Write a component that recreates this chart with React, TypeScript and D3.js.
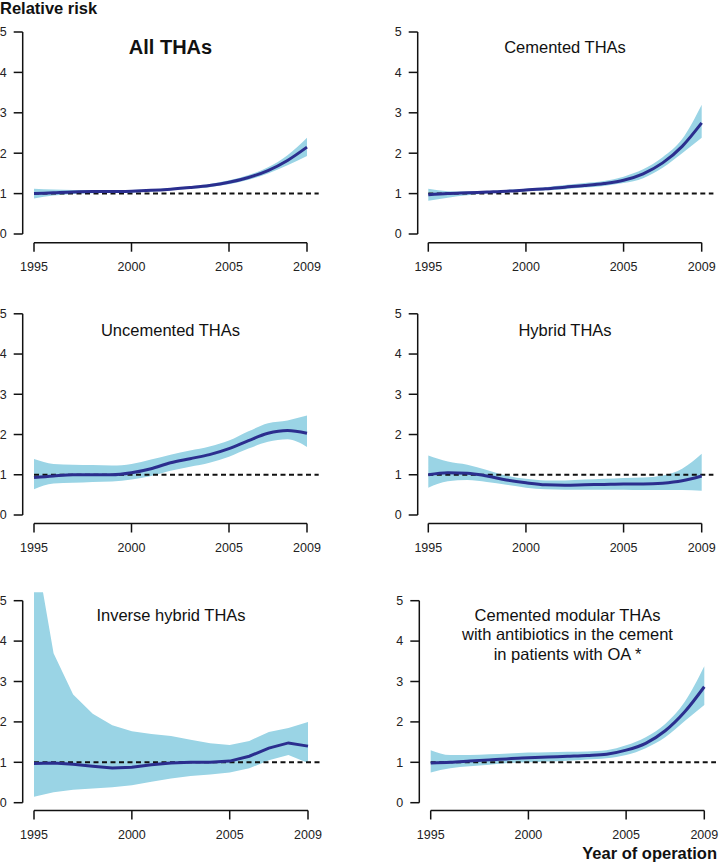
import React from "react";
import * as d3 from "d3";

const years = [1995, 1996, 1997, 1998, 1999, 2000, 2001, 2002, 2003, 2004, 2005, 2006, 2007, 2008, 2009];
const xTicks = [1995, 2000, 2005, 2009];
const yTicks = [0, 1, 2, 3, 4, 5];

const titles = [
  ["All THAs"],
  ["Cemented THAs"],
  ["Uncemented THAs"],
  ["Hybrid THAs"],
  ["Inverse hybrid THAs"],
  ["Cemented modular THAs", "with antibiotics in the cement", "in patients with OA *"],
];

const allEst = [1.0, 1.02, 1.04, 1.05, 1.05, 1.06, 1.08, 1.11, 1.15, 1.2, 1.28, 1.4, 1.57, 1.82, 2.15];
const allLo = [0.88, 0.95, 0.99, 1.01, 1.02, 1.03, 1.05, 1.08, 1.12, 1.16, 1.23, 1.34, 1.5, 1.7, 1.93];
const allHi = [1.12, 1.1, 1.09, 1.09, 1.08, 1.09, 1.11, 1.14, 1.18, 1.24, 1.33, 1.46, 1.65, 1.95, 2.38];

const cemEst = [0.97, 1.0, 1.02, 1.04, 1.06, 1.09, 1.12, 1.16, 1.2, 1.25, 1.33, 1.49, 1.76, 2.17, 2.75];
const cemLo = [0.82, 0.9, 0.96, 1.0, 1.03, 1.06, 1.08, 1.11, 1.15, 1.19, 1.26, 1.38, 1.64, 2.0, 2.38];
const cemHi = [1.12, 1.06, 1.05, 1.06, 1.09, 1.12, 1.16, 1.21, 1.26, 1.31, 1.42, 1.6, 1.9, 2.35, 3.2];

const uncEst = [0.93, 0.97, 1.0, 1.0, 1.0, 1.05, 1.15, 1.3, 1.4, 1.5, 1.65, 1.85, 2.03, 2.1, 2.03];
const uncLo = [0.64, 0.78, 0.8, 0.82, 0.83, 0.88, 0.97, 1.1, 1.2, 1.3, 1.45, 1.65, 1.82, 1.88, 1.69];
const uncHi = [1.39, 1.27, 1.25, 1.24, 1.23, 1.27, 1.38, 1.5, 1.6, 1.7, 1.85, 2.08, 2.28, 2.35, 2.47];

const hybEst = [1.0, 1.05, 1.04, 0.97, 0.87, 0.8, 0.75, 0.74, 0.75, 0.76, 0.77, 0.77, 0.79, 0.85, 0.97];
const hybLo = [0.68, 0.84, 0.87, 0.82, 0.75, 0.68, 0.64, 0.63, 0.63, 0.63, 0.63, 0.62, 0.62, 0.62, 0.6];
const hybHi = [1.48, 1.33, 1.25, 1.12, 0.98, 0.9, 0.86, 0.86, 0.88, 0.9, 0.92, 0.93, 0.98, 1.15, 1.52];

const invEst = [0.97, 0.98, 0.95, 0.9, 0.86, 0.88, 0.94, 0.98, 1.0, 1.0, 1.03, 1.15, 1.35, 1.48, 1.4];
const invLo = [0.15, 0.26, 0.32, 0.35, 0.38, 0.43, 0.52, 0.6, 0.66, 0.7, 0.75, 0.85, 1.05, 1.18, 0.98];
const invHi = [6.5, 3.7, 2.68, 2.2, 1.92, 1.77, 1.7, 1.65, 1.56, 1.47, 1.43, 1.53, 1.75, 1.85, 2.0];

const modEst = [0.98, 1.0, 1.03, 1.06, 1.09, 1.11, 1.13, 1.15, 1.17, 1.2, 1.3, 1.47, 1.78, 2.25, 2.87];
const modLo = [0.75, 0.85, 0.9, 0.94, 0.98, 1.0, 1.02, 1.04, 1.07, 1.1, 1.18, 1.35, 1.62, 2.02, 2.42];
const modHi = [1.3, 1.18, 1.18, 1.2, 1.22, 1.24, 1.25, 1.26, 1.27, 1.3, 1.42, 1.62, 1.95, 2.5, 3.38];

const series = [
  { est: allEst, lo: allLo, hi: allHi },
  { est: cemEst, lo: cemLo, hi: cemHi },
  { est: uncEst, lo: uncLo, hi: uncHi },
  { est: hybEst, lo: hybLo, hi: hybHi },
  { est: invEst, lo: invLo, hi: invHi },
  { est: modEst, lo: modLo, hi: modHi },
];

// layout per panel
const layouts = [
  { axisX: 22.7, x0: 34, x1: 307, yTop: 32, yBot: 234, xAxisY: 242.7, titleY: 47, smooth: true },
  { axisX: 417.7, x0: 428.3, x1: 701.7, yTop: 32, yBot: 234, xAxisY: 242.7, titleY: 47, smooth: true },
  { axisX: 22.7, x0: 34, x1: 307, yTop: 313.8, yBot: 515, xAxisY: 523.5, titleY: 330, smooth: true },
  { axisX: 417.7, x0: 428.3, x1: 701.7, yTop: 313.8, yBot: 515, xAxisY: 523.5, titleY: 330, smooth: true },
  { axisX: 22.7, x0: 34, x1: 308, yTop: 600.7, yBot: 802.7, xAxisY: 810.5, titleY: 615, smooth: false },
  { axisX: 419.3, x0: 430.7, x1: 704.3, yTop: 600.7, yBot: 802.7, xAxisY: 810.5, titleY: 615, smooth: true },
];

const FONT = "'Liberation Sans', Arial, Helvetica, sans-serif";
const BAND = "#9ad4e5";
const LINE = "#2b2e8e";
const AXIS = "#111";
const TXT = "#222";

function Panel({ i }: { i: number }) {
  const L = layouts[i];
  const s = series[i];
  const x = d3.scaleLinear().domain([1995, 2009]).range([L.x0, L.x1]);
  const y = d3.scaleLinear().domain([0, 5]).range([L.yBot, L.yTop]);
  const idx = years.map((_, k) => k);
  const curve = L.smooth ? d3.curveMonotoneX : d3.curveLinear;
  const area = d3
    .area<number>()
    .x((k) => x(years[k]))
    .y0((k) => y(s.lo[k]))
    .y1((k) => y(s.hi[k]))
    .curve(curve);
  const line = d3
    .line<number>()
    .x((k) => x(years[k]))
    .y((k) => y(s.est[k]))
    .curve(curve);
  const clipId = `clip${i}`;
  const t = titles[i];
  const cx = (L.x0 + L.x1) / 2;
  return (
    <g>
      <defs>
        <clipPath id={clipId}>
          <rect x={L.axisX} y={L.yTop - 8.5} width={L.x1 - L.axisX + 20} height={L.yBot - L.yTop + 20} />
        </clipPath>
      </defs>
      <g clipPath={`url(#${clipId})`}>
        <path d={area(idx) || ""} fill={BAND} stroke="none" />
        <line
          x1={x(1995)}
          x2={x(2009.6)}
          y1={y(1)}
          y2={y(1)}
          stroke="#111"
          strokeWidth={2}
          strokeDasharray="5,3.5"
        />
        <path d={line(idx) || ""} fill="none" stroke={LINE} strokeWidth={3} />
      </g>
      {/* y axis */}
      <line x1={L.axisX} x2={L.axisX} y1={y(0)} y2={y(5)} stroke={AXIS} strokeWidth={1.5} />
      {yTicks.map((v) => (
        <g key={v}>
          <line x1={L.axisX - 9} x2={L.axisX} y1={y(v)} y2={y(v)} stroke={AXIS} strokeWidth={1.5} />
          <text
            x={L.axisX - 16}
            y={y(v)}
            dy="0.35em"
            textAnchor="end"
            fontFamily={FONT}
            fontSize={12.5}
            fill={TXT}
          >
            {v}
          </text>
        </g>
      ))}
      {/* x axis */}
      <line x1={x(1995)} x2={x(2009)} y1={L.xAxisY} y2={L.xAxisY} stroke={AXIS} strokeWidth={1.5} />
      {xTicks.map((v) => (
        <g key={v}>
          <line x1={x(v)} x2={x(v)} y1={L.xAxisY} y2={L.xAxisY + 9} stroke={AXIS} strokeWidth={1.5} />
          <text
            x={x(v)}
            y={L.xAxisY + 24}
            dy="0.35em"
            textAnchor="middle"
            fontFamily={FONT}
            fontSize={12.5}
            fill={TXT}
          >
            {v}
          </text>
        </g>
      ))}
      {t.map((line, j) => (
        <text
          key={j}
          x={cx}
          y={L.titleY + j * 19.5}
          dy="0.35em"
          textAnchor="middle"
          fontFamily={FONT}
          fontSize={i === 0 ? 20 : 16.5}
          fontWeight={i === 0 ? "bold" : "normal"}
          fill="#111"
        >
          {line}
        </text>
      ))}
    </g>
  );
}

export default function App() {
  return (
    <svg
      width={720}
      height={866}
      style={{ position: "absolute", left: 0, top: 0, display: "block", background: "#fff" }}
    >
      <rect x={0} y={0} width={720} height={866} fill="#fff" />
      {series.map((_, i) => (
        <Panel key={i} i={i} />
      ))}
      <text x={0} y={8} dy="0.35em" fontFamily={FONT} fontSize={16.5} fontWeight="bold" fill="#111">
        Relative risk
      </text>
      <text
        x={717}
        y={853}
        dy="0.35em"
        textAnchor="end"
        fontFamily={FONT}
        fontSize={16.5}
        fontWeight="bold"
        fill="#111"
      >
        Year of operation
      </text>
    </svg>
  );
}
